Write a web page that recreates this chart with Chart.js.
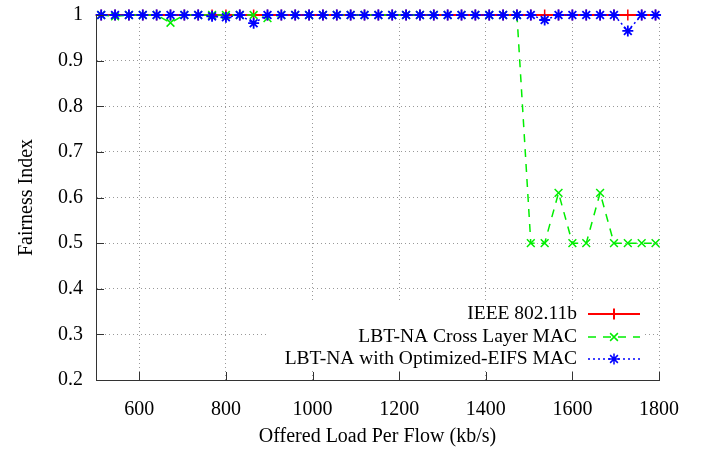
<!DOCTYPE html>
<html>
<head>
<meta charset="utf-8">
<script src="https://cdn.jsdelivr.net/npm/chart.js@4"></script>
<style>
  html, body { margin: 0; padding: 0; background: #fff; }
  #wrap { width: 702px; height: 452px; }
</style>
</head>
<body>
<div id="wrap"><canvas id="chart" width="702" height="452"></canvas></div>
<script>
// offered load per flow (kb/s)
const loads = [512, 544, 576, 608, 640, 672, 704, 736, 768, 800, 832, 864, 896, 928, 960, 992,
  1024, 1056, 1088, 1120, 1152, 1184, 1216, 1248, 1280, 1312, 1344, 1376, 1408, 1440, 1472,
  1504, 1536, 1568, 1600, 1632, 1664, 1696, 1728, 1760, 1792];

const ieee = [1, 1, 1, 1, 1, 1, 1, 1, 1, 1, 1, 1, 1, 1, 1, 1,
  1, 1, 1, 1, 1, 1, 1, 1, 1, 1, 1, 1, 1, 1, 1,
  1, 1, 1, 1, 1, 1, 1, 1, 1, 1];

const crossLayer = [1, 0.997, 1, 1, 1, 0.983, 1, 1, 1, 1, 1, 1, 0.993, 1, 1, 1,
  1, 1, 1, 1, 1, 1, 1, 1, 1, 1, 1, 1, 1, 1, 1,
  0.5, 0.5, 0.61, 0.5, 0.5, 0.61, 0.5, 0.5, 0.5, 0.5];

const optimizedEifs = [1, 1, 1, 1, 1, 1, 1, 1, 0.997, 0.995, 1, 0.982, 1, 1, 1, 1,
  1, 1, 1, 1, 1, 1, 1, 1, 1, 1, 1, 1, 1, 1, 1,
  1, 0.989, 1, 1, 1, 1, 1, 0.965, 1, 1];

const seriesNames = ['IEEE 802.11b', 'LBT-NA Cross Layer MAC', 'LBT-NA with Optimized-EIFS MAC'];
const xTicks = [600, 800, 1000, 1200, 1400, 1600, 1800];
const yTicks = [0.2, 0.3, 0.4, 0.5, 0.6, 0.7, 0.8, 0.9, 1];

const FONT = '"Liberation Serif", "Times New Roman", serif';
const AXIS_COLOR = '#333';

function toPoints(values) {
  return loads.map((x, i) => ({ x: x, y: values[i] }));
}

// gnuplot style ticks pointing into the plot
const innerTicks = {
  id: 'innerTicks',
  afterDatasetsDraw(chart) {
    const { ctx, chartArea, scales } = chart;
    ctx.save();
    ctx.strokeStyle = AXIS_COLOR;
    ctx.lineWidth = 1;
    ctx.beginPath();
    xTicks.forEach(v => {
      const px = Math.round(scales.x.getPixelForValue(v)) + 0.5;
      ctx.moveTo(px, chartArea.bottom);
      ctx.lineTo(px, chartArea.bottom - 8);
    });
    yTicks.forEach(v => {
      const py = Math.round(scales.y.getPixelForValue(v)) + 0.5;
      ctx.moveTo(chartArea.left, py);
      ctx.lineTo(chartArea.left + 8, py);
    });
    ctx.stroke();
    ctx.restore();
  }
};

// key box in the lower right, text right aligned with sample on the right
const keyBox = {
  id: 'keyBox',
  afterDatasetsDraw(chart) {
    const ctx = chart.ctx;
    const datasets = chart.data.datasets;
    ctx.save();
    ctx.fillStyle = '#fff';
    ctx.fillRect(268, 302, 377, 69);
    ctx.font = '19.5px ' + FONT;
    ctx.textAlign = 'right';
    ctx.textBaseline = 'middle';
    const rows = [314, 337, 359];
    datasets.forEach((ds, i) => {
      const y = rows[i];
      ctx.fillStyle = '#000';
      ctx.fillText(seriesNames[i], 577, y);
      ctx.strokeStyle = ds.borderColor;
      ctx.lineWidth = ds.borderWidth;
      ctx.setLineDash(ds.borderDash || []);
      ctx.beginPath();
      ctx.moveTo(588, y);
      ctx.lineTo(640, y);
      ctx.stroke();
      ctx.setLineDash([]);
      Chart.helpers.drawPoint(ctx, {
        pointStyle: ds.pointStyle,
        radius: ds.pointRadius,
        borderWidth: ds.pointBorderWidth,
        rotation: 0
      }, 614, y);
    });
    ctx.restore();
  }
};

new Chart(document.getElementById('chart'), {
  type: 'line',
  data: {
    datasets: [
      {
        label: seriesNames[0],
        data: toPoints(ieee),
        borderColor: '#ff0000',
        backgroundColor: '#ff0000',
        borderWidth: 2,
        pointStyle: 'cross',
        pointRadius: 5.5,
        pointBorderWidth: 1.5,
        order: 3,
        clip: false
      },
      {
        label: seriesNames[1],
        data: toPoints(crossLayer),
        borderColor: '#00ee00',
        backgroundColor: '#00ee00',
        borderWidth: 1.5,
        borderDash: [8, 7],
        pointStyle: 'crossRot',
        pointRadius: 5.5,
        pointBorderWidth: 1.5,
        order: 2,
        clip: false
      },
      {
        label: seriesNames[2],
        data: toPoints(optimizedEifs),
        borderColor: '#0000ff',
        backgroundColor: '#0000ff',
        borderWidth: 1.5,
        borderDash: [2, 3],
        pointStyle: 'star',
        pointRadius: 5.5,
        pointBorderWidth: 1.8,
        order: 1,
        clip: false
      }
    ]
  },
  options: {
    responsive: false,
    animation: false,
    layout: { padding: { top: 15, right: 43, left: 0, bottom: 0 } },
    plugins: {
      legend: { display: false },
      tooltip: { enabled: false }
    },
    scales: {
      x: {
        type: 'linear',
        min: 500,
        max: 1800,
        afterBuildTicks: scale => { scale.ticks = xTicks.map(v => ({ value: v })); },
        afterFit: scale => { scale.height = 72; scale.paddingLeft = 0; scale.paddingRight = 0; },
        grid: { color: '#999', lineWidth: 1, drawTicks: false },
        border: { display: true, color: AXIS_COLOR, width: 1, dash: [1, 3] },
        ticks: {
          padding: 18,
          color: '#000',
          font: { family: FONT, size: 20 },
          maxRotation: 0,
          callback: v => String(v)
        },
        title: {
          display: true,
          text: 'Offered Load Per Flow (kb/s)',
          color: '#000',
          font: { family: FONT, size: 20 },
          padding: { top: 0, bottom: 3 }
        }
      },
      y: {
        type: 'linear',
        min: 0.2,
        max: 1,
        afterBuildTicks: scale => { scale.ticks = yTicks.map(v => ({ value: v })); },
        afterFit: scale => { scale.width = 96; scale.paddingTop = 0; scale.paddingBottom = 0; },
        grid: { color: '#999', lineWidth: 1, drawTicks: false },
        border: { display: true, color: AXIS_COLOR, width: 1, dash: [1, 3] },
        ticks: {
          padding: 13,
          color: '#000',
          font: { family: FONT, size: 20 },
          callback: v => String(Math.round(v * 10) / 10)
        },
        title: {
          display: true,
          text: 'Fairness Index',
          color: '#000',
          font: { family: FONT, size: 20 },
          padding: { top: 15, bottom: 0 }
        }
      }
    }
  },
  plugins: [keyBox, innerTicks]
});
</script>
</body>
</html>
